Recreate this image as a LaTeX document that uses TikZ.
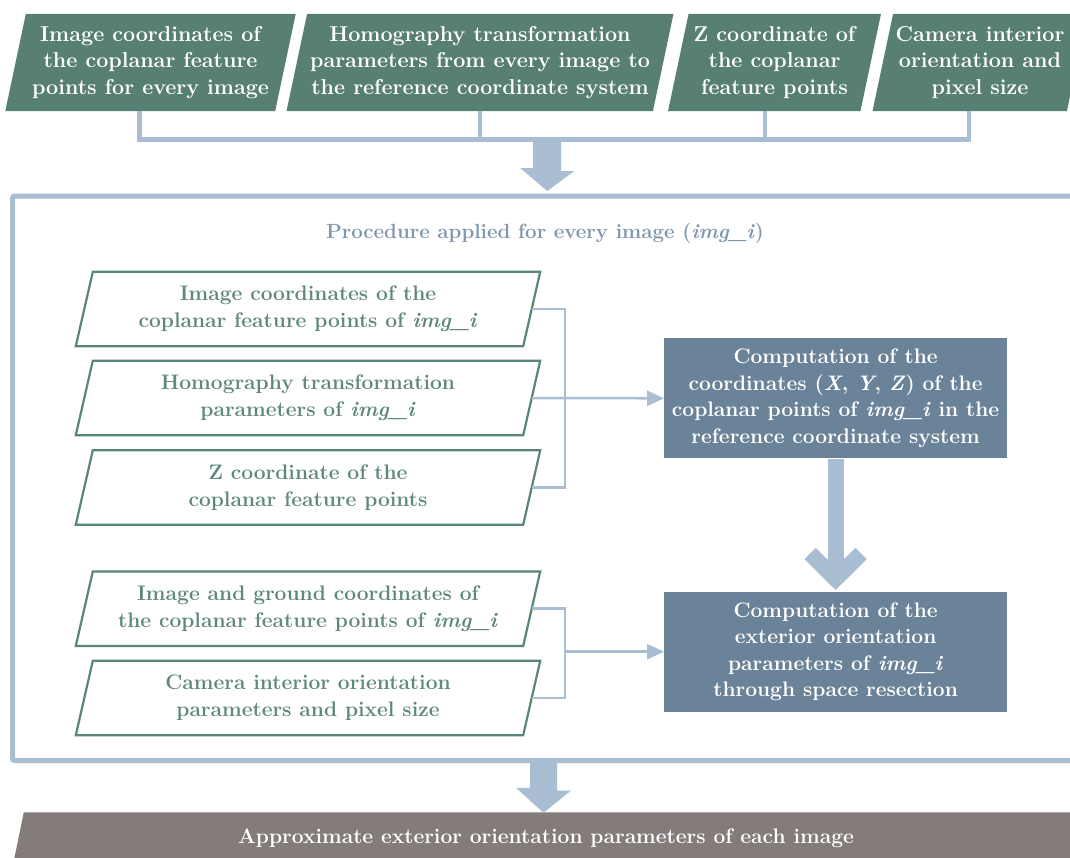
\documentclass[tikz,border=0pt]{standalone}
\usepackage{fontspec}
\setmainfont{Latin Modern Roman}
\usetikzlibrary{arrows.meta,backgrounds,calc}

\definecolor{topgreen}{HTML}{587F73}
\definecolor{edgegreen}{HTML}{5A8676}
\definecolor{txtgreen}{HTML}{5E8878}
\definecolor{lblue}{HTML}{A9BED3}
\definecolor{slate}{HTML}{6A8399}
\definecolor{titleblue}{HTML}{7F97AE}
\definecolor{barbrown}{HTML}{847B7B}

\tikzset{
  topbox/.style={minimum height=97pt, inner sep=0pt, align=center,
    text=white, font=\fontsize{21.5}{26.5}\selectfont\bfseries},
  inbox/.style={minimum width=447pt, minimum height=74pt, inner sep=0pt,
    align=center, text=txtgreen, font=\fontsize{21}{26.7}\selectfont\bfseries},
  compbox/.style={fill=slate, minimum width=342.7pt, minimum height=120pt,
    inner sep=0pt, align=center, text=white,
    font=\fontsize{21}{26.5}\selectfont\bfseries},
  busline/.style={draw=lblue, line width=4.5pt},
  feedline/.style={draw=lblue, line width=2.5pt},
  feedarrow/.style={feedline, -{Triangle[length=17pt,width=15pt]}},
  fatline/.style={draw=lblue, line width=16pt}
}

\begin{document}
\begin{tikzpicture}[x=1pt,y=-1pt]
\useasboundingbox (0,0) rectangle (1070,857);

% input data row
\node[topbox, minimum width=269.5pt] (t1) at (150.5,62.5)
  {Image coordinates of\\the coplanar feature\\points for every image};
\node[topbox, minimum width=366pt] (t2) at (480,62.5)
  {Homography transformation\\parameters from every image to\\the reference coordinate system};
\node[topbox, minimum width=192pt] (t3) at (774.5,62.5)
  {Z coordinate of\\the coplanar\\feature points};
\node[topbox, minimum width=194pt] (t4) at (980,62.5)
  {Camera interior\\orientation and\\pixel size};

% procedure frame
\node[draw=lblue, line width=5pt, rounded corners=2pt, minimum width=1067.5pt,
  minimum height=564.5pt, inner sep=0pt] (proc) at (546.25,478.25) {};
\node[text=titleblue, font=\fontsize{20.5}{26}\selectfont\bfseries] (title) at (545,233)
  {Procedure applied for every image (\textit{img\_i})};

% per-image inputs
\node[inbox] (i1) at (308,309) {Image coordinates of the\\coplanar feature points of \textit{img\_i}};
\node[inbox] (i2) at (308,398) {Homography transformation\\parameters of \textit{img\_i}};
\node[inbox] (i3) at (308,487.5) {Z coordinate of the\\coplanar feature points};
\node[inbox] (i4) at (308,608.7) {Image and ground coordinates of\\the coplanar feature points of \textit{img\_i}};
\node[inbox] (i5) at (308,698) {Camera interior orientation\\parameters and pixel size};

% computation steps
\node[compbox] (c1) at (835.6,398.3)
  {Computation of the\\coordinates (\textit{X}, \textit{Y}, \textit{Z}) of the\\coplanar points of \textit{img\_i} in the\\reference coordinate system};
\node[compbox] (c2) at (835.6,651.7)
  {Computation of the\\exterior orientation\\parameters of \textit{img\_i}\\through space resection};

% result bar
\node[minimum width=1066pt, minimum height=60pt, inner sep=0pt] (res) at (547,842.5) {};
\node[text=white, font=\fontsize{21}{26}\selectfont\bfseries] (restext) at (546,838)
  {Approximate exterior orientation parameters of each image};

% shapes behind the texts
\begin{scope}[on background layer]
  \fill[white] (0,0) rectangle (1070,857);
  \foreach \n in {t1,t2,t3,t4}
    \fill[topgreen] ([xshift=10.3pt]\n.north west) -- ([xshift=10.3pt]\n.north east)
      -- ([xshift=-10.3pt]\n.south east) -- ([xshift=-10.3pt]\n.south west) -- cycle;
  \foreach \n in {i1,i2,i3,i4,i5}
    \draw[edgegreen, line width=2.2pt, fill=white]
      ([xshift=8.5pt]\n.north west) -- ([xshift=8.5pt]\n.north east)
      -- ([xshift=-8.5pt]\n.south east) -- ([xshift=-8.5pt]\n.south west) -- cycle;
  \fill[barbrown] ([xshift=10pt]res.north west) -- (res.north east)
    -- (res.south east) -- ([xshift=-2.4pt]res.south west) -- cycle;
\end{scope}

% input row feeding the procedure
\draw[busline] ([xshift=-11pt]t1.south) -- ++(0,28.5) -| ([xshift=-11pt]t4.south);
\draw[busline] (t2.south) -- ++(0,28.5);
\draw[busline] ([xshift=-9.5pt]t3.south) -- ++(0,28.5);
\coordinate (busmid) at ($(t2.south)+(67,28.5)$);
\fill[lblue] ([xshift=-14pt]busmid) -- ++(28,0) -- ++(0,31.5) -- ++(13,0)
  -- ($(proc.north)+(1,-2.5)$) -- ++(-27,-23) -- ++(13,0) -- cycle;

% inputs to the first computation
\draw[feedline] (i1.east) -- ++(33.5,0) coordinate (v1) |- (i3.east);
\draw[feedarrow] (i2.east) -- (c1.west);

% inputs to the second computation
\draw[feedline] (i4.east) -- ++(33.5,0) coordinate (v2) |- (i5.east);
\draw[feedarrow] (v2 |- c2.west) -- (c2.west);

% first computation to the second
\draw[fatline] (c1.south) -- ([yshift=14pt]c2.north);
\draw[fatline, miter limit=10]
  ([xshift=-25.5pt,yshift=38pt]c2.north) -- ([yshift=12.7pt]c2.north)
  -- ([xshift=25.5pt,yshift=38pt]c2.north);

% procedure to the result
\coordinate (procout) at ($(proc.south)+(-2.75,0)$);
\fill[lblue] ([xshift=-13.5pt]procout) -- ++(27,0) -- ++(0,27.5) -- ++(14,0)
  -- ($(res.north)+(-3.5,0.5)$) -- ++(-27.5,-25) -- ++(14,0) -- cycle;
\end{tikzpicture}
\end{document}
